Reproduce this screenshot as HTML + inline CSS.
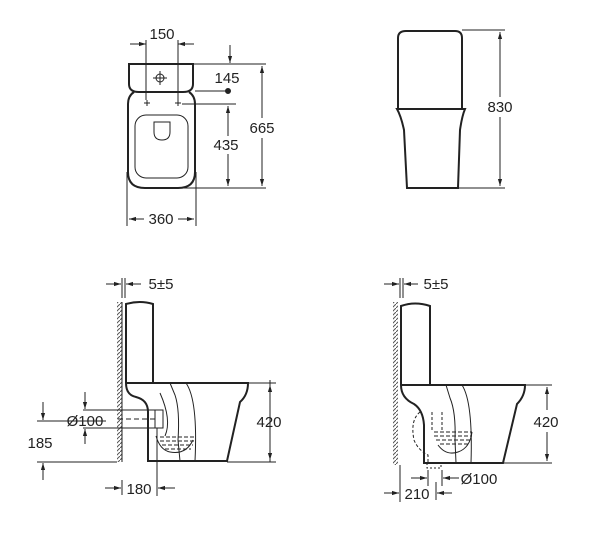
<!DOCTYPE html>
<html><head><style>
html,body{margin:0;padding:0;background:#fff}
svg{display:block}
text{font-family:"Liberation Sans",sans-serif;font-size:15px;fill:#222}
</style></head><body>
<svg width="600" height="535" viewBox="0 0 600 535" xmlns="http://www.w3.org/2000/svg">
<defs>
<marker id="a" viewBox="0 0 10 10" refX="10" refY="5" markerWidth="7" markerHeight="7" orient="auto-start-reverse"><path d="M0,2 L10,5 L0,8 z" fill="#222"/></marker>
<pattern id="h" width="4" height="4" patternUnits="userSpaceOnUse"><path d="M0,4 L4,0" stroke="#555" stroke-width="1"/></pattern>
</defs>
<g fill="none" stroke="#222" stroke-width="1">
<!-- TOP VIEW -->
<path d="M129,64 H193 V84 Q193,92 183,92 H139 Q129,92 129,84 Z" stroke-width="2"/>
<path d="M134,92 Q128,96 128,104 V172 Q128,188 145,188 H178 Q195,188 195,172 V104 Q195,96 189,92" stroke-width="2"/>
<rect x="135" y="115" width="53" height="63" rx="11"/>
<path d="M154,122 H170 V132 Q170,140 162,140 Q154,140 154,132 Z"/>
<circle cx="160" cy="78" r="4"/><path d="M153,78 H167 M160,71 V85"/>
<path d="M144,103 H150 M147,100 V106 M175,103 H181 M178,100 V106"/>
<path d="M146,40 V100 M178,40 V100"/>
<path d="M130,44 H146" marker-end="url(#a)"/><path d="M194,44 H178" marker-end="url(#a)"/>
<path d="M230,45 V63" marker-end="url(#a)"/>
<path d="M193,64 H266 M195,91 H228 M182,104 H236 M175,188 H266"/>
<circle cx="228" cy="91" r="2.5" fill="#222"/>
<path d="M228,136 V106" marker-end="url(#a)"/><path d="M228,154 V186" marker-end="url(#a)"/>
<path d="M262,118 V66" marker-end="url(#a)"/><path d="M262,138 V186" marker-end="url(#a)"/>
<path d="M127,172 V226 M196,172 V226"/>
<path d="M144,219 H129" marker-end="url(#a)"/><path d="M178,219 H194" marker-end="url(#a)"/>
<!-- TOP RIGHT -->
<path d="M398,109 V38 Q398,31 406,31 H455 Q462,31 462,38 V109" stroke-width="2"/>
<path d="M397,109 H465 Q462,116 460,130 L458,188 H407 L404,130 Q401,116 397,109 Z" stroke-width="2"/>
<path d="M462,30 H505 M458,188 H505"/>
<path d="M500,97 V32" marker-end="url(#a)"/><path d="M500,117 V186" marker-end="url(#a)"/>
<!-- BOTTOM LEFT -->
<rect x="117" y="302" width="5" height="160" fill="url(#h)" stroke="none"/>
<path d="M122,302 V462"/>
<path d="M122,278 V298 M125,278 V298"/>
<path d="M106,284 H121" marker-end="url(#a)"/><path d="M141,284 H126" marker-end="url(#a)"/>
<path d="M126,383 V304 Q140,300 153,304 V383" stroke-width="2"/>
<path d="M126,383 H248 Q248,395 240,402 L227,461 H148 V412 Q148,400 136,397 Q126,395 126,383 Z" stroke-width="2"/>
<path d="M170,383 L175,395 Q180,410 178,440 L180,461 M186,383 Q198,400 195,461"/>
<path d="M160,393 Q172,420 165,436 M156,436 Q160,450 170,452 Q186,455 193,440"/>
<path d="M160,437 H195 M160,441 H195 M162,445 H193 M165,449 H191" stroke-dasharray="4,2"/>
<rect x="155" y="410" width="8" height="18"/>
<path d="M118,419 H155" stroke-dasharray="5,3"/>
<path d="M83,410 H155 M83,428 H155 M37,421 H106 M37,462 H117 M157,428 V496 M270,462 V380"/>
<path d="M248,383 H276 M227,462 H276"/>
<path d="M85,392 V409" marker-end="url(#a)"/><path d="M85,444 V429" marker-end="url(#a)"/>
<path d="M43,402 V420" marker-end="url(#a)"/><path d="M43,480 V463" marker-end="url(#a)"/>
<path d="M270,410 V385" marker-end="url(#a)"/><path d="M270,432 V460" marker-end="url(#a)"/>
<path d="M105,488 H121" marker-end="url(#a)"/><path d="M175,488 H158" marker-end="url(#a)"/>
<path d="M122,480 V495"/>
<!-- BOTTOM RIGHT -->
<rect x="393" y="302" width="5" height="163" fill="url(#h)" stroke="none"/>
<path d="M400,278 V298 M403,278 V298"/>
<path d="M384,284 H399" marker-end="url(#a)"/><path d="M418,284 H404" marker-end="url(#a)"/>
<path d="M401,385 V306 Q415,301 430,306 V385" stroke-width="2"/>
<path d="M401,385 H525 Q525,396 517,404 L503,463 H424 V425 Q423,410 414,404 Q401,398 401,385 Z" stroke-width="2"/>
<path d="M446,385 L450,398 Q456,412 455,440 L456,463 M462,385 Q473,402 471,463"/>
<path d="M434,432 H472 M434,436 H472 M436,440 H470 M440,444 H468" stroke-dasharray="4,2"/>
<path d="M438,445 Q446,456 458,452 Q470,448 472,432"/>
<path d="M420,412 Q410,420 414,440 Q418,450 428,455 V463 M442,412 V430 M432,412 V430" stroke-dasharray="3,2"/>
<path d="M427,463 H441 V468 H427 Z" stroke-dasharray="2,2"/>
<path d="M525,385 H552 M503,463 H552"/>
<path d="M547,410 V387" marker-end="url(#a)"/><path d="M547,432 V461" marker-end="url(#a)"/>
<path d="M428,470 V486 M442,470 V486 M400,465 V502 M436,482 V500"/>
<path d="M411,478 H427" marker-end="url(#a)"/><path d="M459,478 H443" marker-end="url(#a)"/>
<path d="M384,493 H399" marker-end="url(#a)"/><path d="M452,493 H437" marker-end="url(#a)"/>
</g>
<text x="162" y="39" text-anchor="middle">150</text>
<text x="227" y="83" text-anchor="middle">145</text>
<text x="226" y="150" text-anchor="middle">435</text>
<text x="262" y="133" text-anchor="middle">665</text>
<text x="161" y="224" text-anchor="middle">360</text>
<text x="500" y="112" text-anchor="middle">830</text>
<text x="161" y="289" text-anchor="middle">5±5</text>
<text x="85" y="426" text-anchor="middle">Ø100</text>
<text x="40" y="448" text-anchor="middle">185</text>
<text x="269" y="427" text-anchor="middle">420</text>
<text x="139" y="494" text-anchor="middle">180</text>
<text x="436" y="289" text-anchor="middle">5±5</text>
<text x="546" y="427" text-anchor="middle">420</text>
<text x="479" y="484" text-anchor="middle">Ø100</text>
<text x="417" y="499" text-anchor="middle">210</text>
</svg>
</body></html>
